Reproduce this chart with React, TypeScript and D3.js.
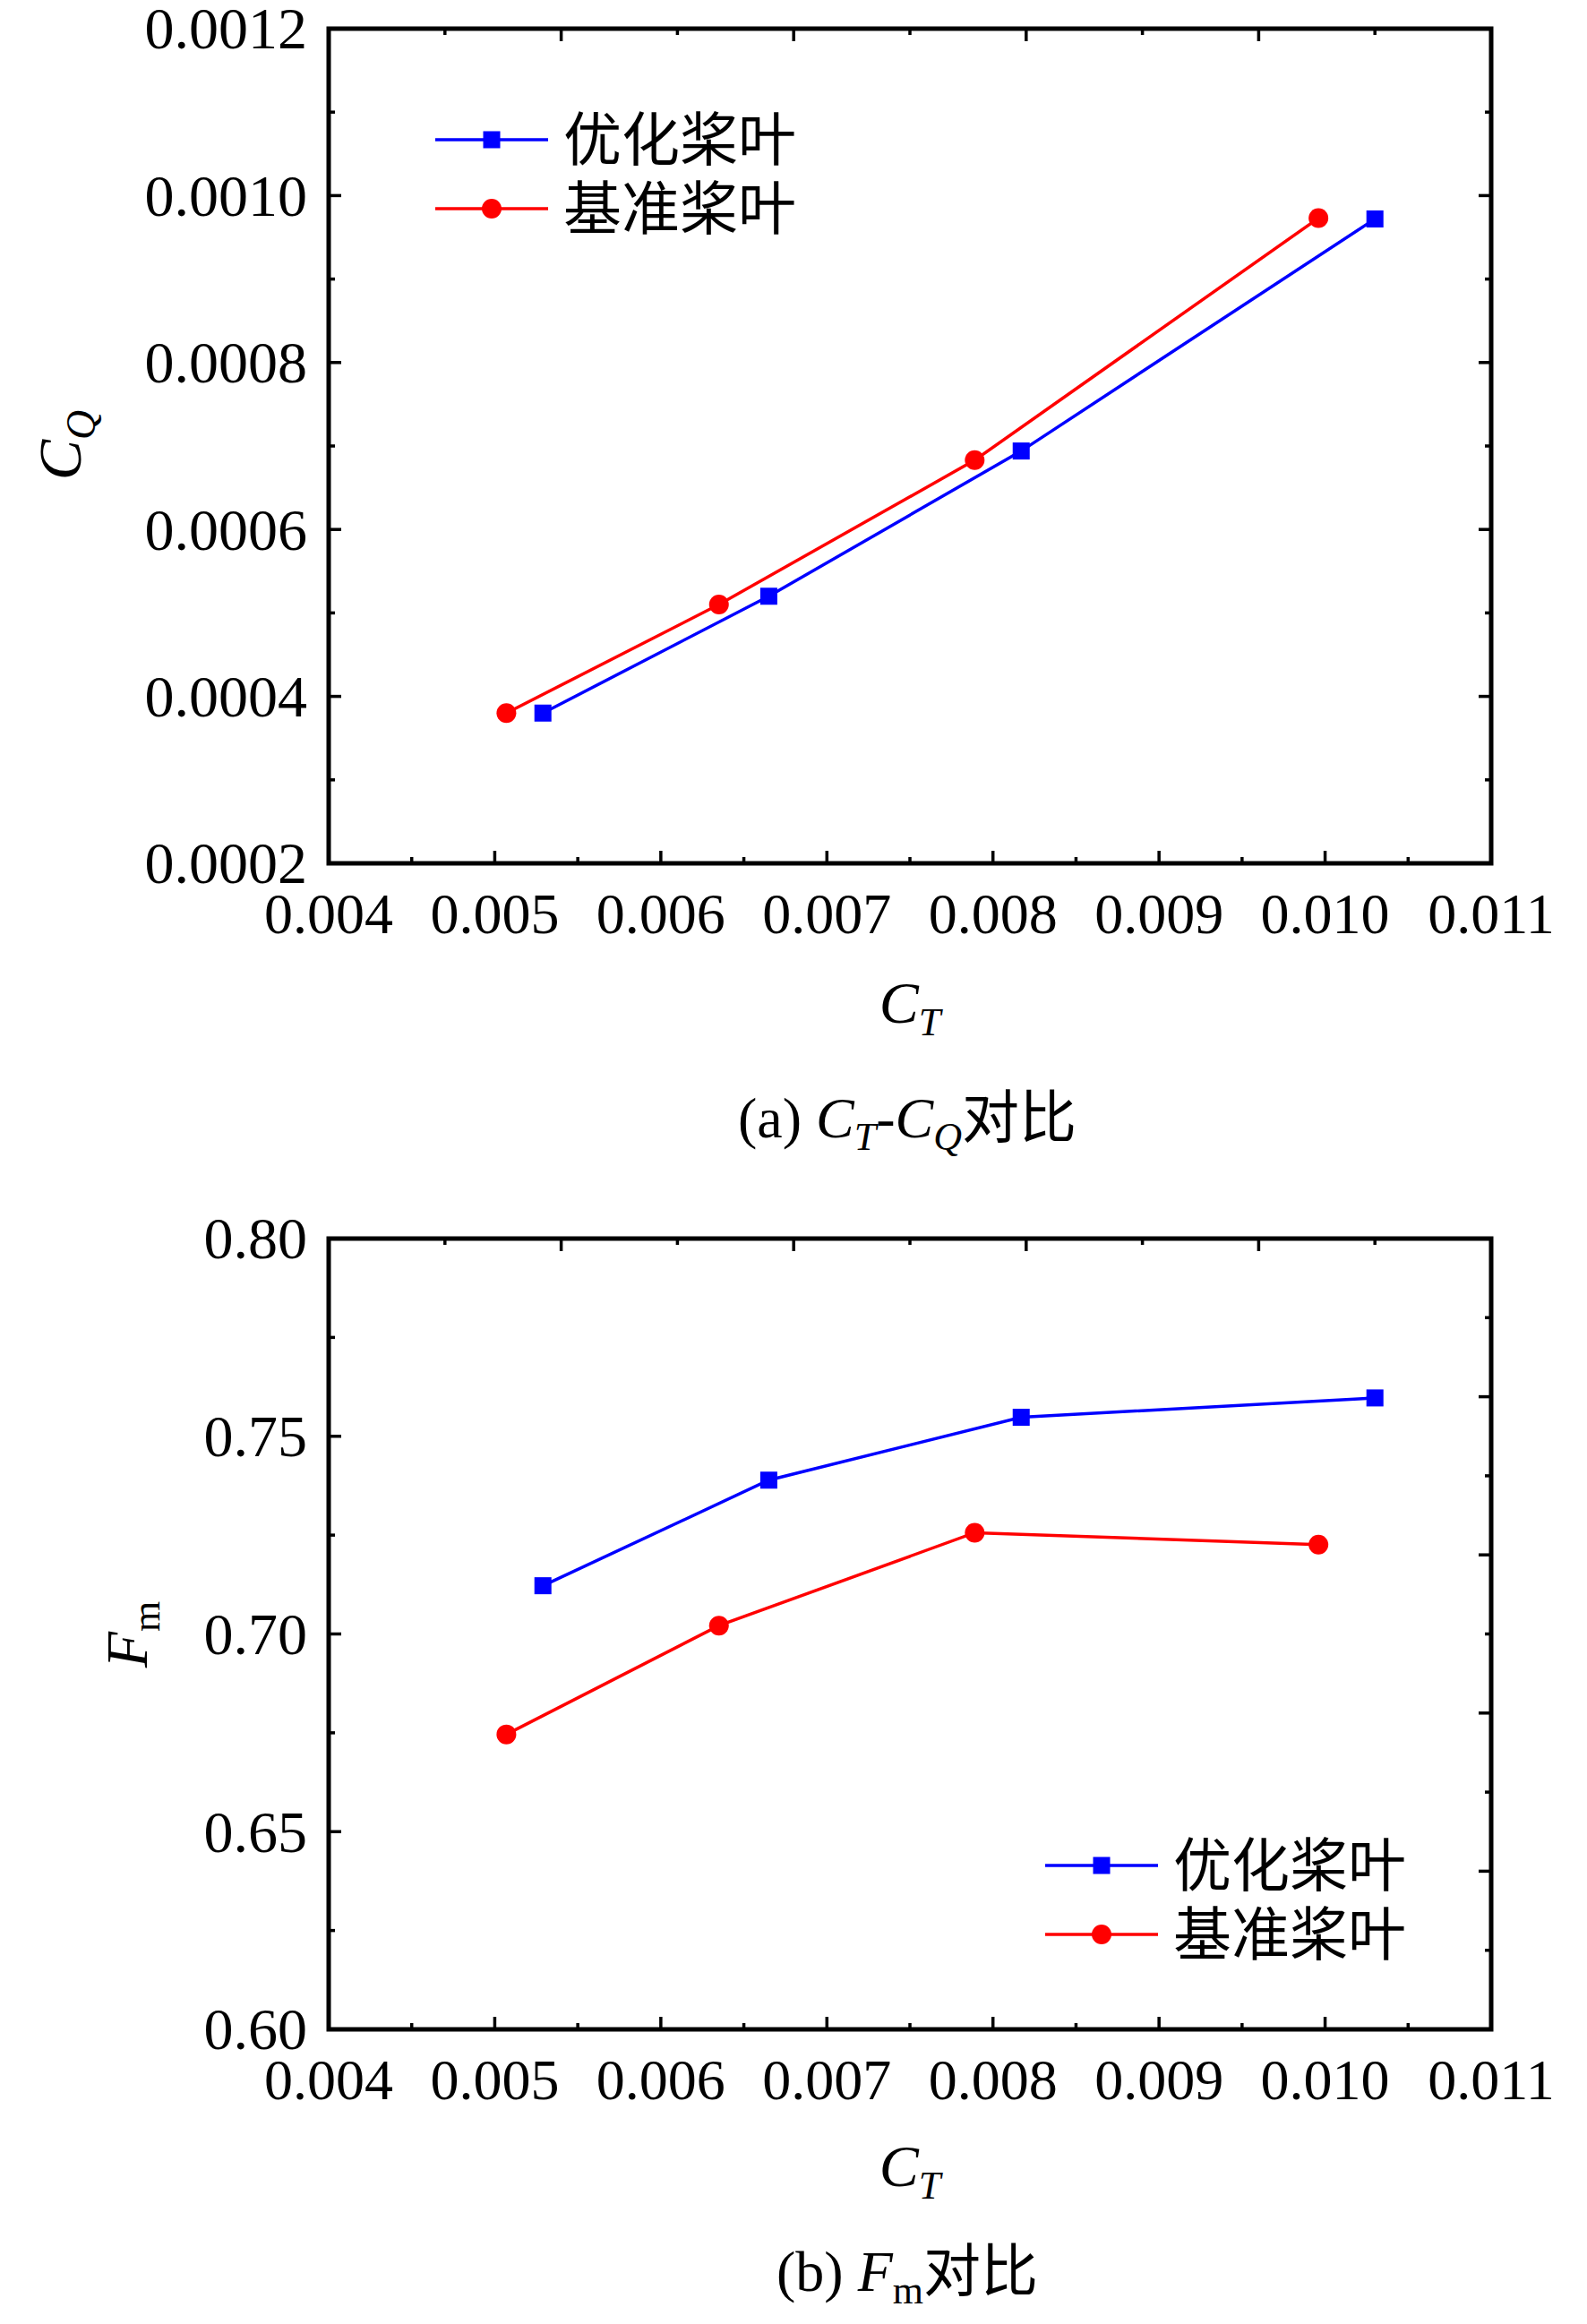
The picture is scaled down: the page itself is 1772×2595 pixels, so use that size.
import React from 'react';
import * as d3 from 'd3';

const W = 1772;
const H = 2595;
const FONT = '"Liberation Serif", "Times New Roman", "Noto Sans CJK SC", serif';
const CJK = '"Noto Sans CJK SC", "Liberation Serif", sans-serif';

// 数据：推力系数 / 扭矩系数 / 品质因数
const optCT = [0.00529, 0.00665, 0.00817, 0.0103];
const optCQ = [0.00038, 0.00052, 0.000694, 0.000972];
const optFm = [0.7122, 0.7389, 0.7548, 0.7597];

const baseCT = [0.00507, 0.00635, 0.00789, 0.00996];
const baseCQ = [0.00038, 0.00051, 0.000683, 0.000973];
const baseFm = [0.6746, 0.7021, 0.7256, 0.7226];

const legendNames = ['优化桨叶', '基准桨叶'];
const seriesColors = ['#0000ff', '#ff0000'];

const xDomain = [0.004, 0.011];
const xTickValues = [0.004, 0.005, 0.006, 0.007, 0.008, 0.009, 0.01, 0.011];
const cqDomain = [0.0002, 0.0012];
const cqTickValues = [0.0002, 0.0004, 0.0006, 0.0008, 0.001, 0.0012];
const fmDomain = [0.6, 0.8];
const fmTickValues = [0.6, 0.65, 0.7, 0.75, 0.8];

const X0 = 367;
const X1 = 1665;
const MAJOR = 14;
const MINOR = 7;

type PanelProps = {
  top: number;
  bottom: number;
  yDomain: number[];
  yTicks: number[];
  yFormat: (v: number) => string;
  series: { x: number[]; y: number[] }[];
  legendX: number;
  legendY: number;
};

const halfSteps = (ticks: number[]) =>
  ticks.slice(0, -1).map((t, i) => (t + ticks[i + 1]) / 2);

// Origin 的对侧轴：5 个主刻度区间，每段一个次刻度
const fiveSplit = (domain: number[]) => {
  const step = (domain[1] - domain[0]) / 5;
  const major = d3.range(6).map((i) => domain[0] + i * step);
  return { major, minor: halfSteps(major) };
};

const Marker = ({ kind, x, y, color, size }: any) =>
  kind === 0 ? (
    <rect x={x - size / 2} y={y - size / 2} width={size} height={size} fill={color} />
  ) : (
    <circle cx={x} cy={y} r={size / 2 + 1.5} fill={color} />
  );

const Panel = ({ top, bottom, yDomain, yTicks, yFormat, series, legendX, legendY }: PanelProps) => {
  const x = d3.scaleLinear().domain(xDomain).range([X0, X1]);
  const y = d3.scaleLinear().domain(yDomain).range([bottom, top]);
  const line = d3
    .line<[number, number]>()
    .x((d) => x(d[0]))
    .y((d) => y(d[1]));

  const xMinor = halfSteps(xTickValues);
  const yMinor = halfSteps(yTicks);
  const topAxis = fiveSplit(xDomain);
  const rightAxis = fiveSplit(yDomain);

  return (
    <g>
      {/* 刻度 */}
      <g stroke="#000" strokeWidth={3.5}>
        {xTickValues.map((t) => (
          <line key={`bx${t}`} x1={x(t)} x2={x(t)} y1={bottom} y2={bottom - MAJOR} />
        ))}
        {xMinor.map((t) => (
          <line key={`bxm${t}`} x1={x(t)} x2={x(t)} y1={bottom} y2={bottom - MINOR} />
        ))}
        {topAxis.major.map((t) => (
          <line key={`tx${t}`} x1={x(t)} x2={x(t)} y1={top} y2={top + MAJOR} />
        ))}
        {topAxis.minor.map((t) => (
          <line key={`txm${t}`} x1={x(t)} x2={x(t)} y1={top} y2={top + MINOR} />
        ))}
        {yTicks.map((t) => (
          <line key={`ly${t}`} x1={X0} x2={X0 + MAJOR} y1={y(t)} y2={y(t)} />
        ))}
        {yMinor.map((t) => (
          <line key={`lym${t}`} x1={X0} x2={X0 + MINOR} y1={y(t)} y2={y(t)} />
        ))}
        {rightAxis.major.map((t) => (
          <line key={`ry${t}`} x1={X1} x2={X1 - MAJOR} y1={y(t)} y2={y(t)} />
        ))}
        {rightAxis.minor.map((t) => (
          <line key={`rym${t}`} x1={X1} x2={X1 - MINOR} y1={y(t)} y2={y(t)} />
        ))}
      </g>
      <rect
        x={X0}
        y={top}
        width={X1 - X0}
        height={bottom - top}
        fill="none"
        stroke="#000"
        strokeWidth={5}
      />

      {/* 刻度标签 */}
      <g fontFamily={FONT} fill="#000">
        {xTickValues.map((t) => (
          <text key={`xl${t}`} x={x(t)} y={bottom + 78} textAnchor="middle" fontSize={64}>
            {d3.format('.3f')(t)}
          </text>
        ))}
        {yTicks.map((t) => (
          <text key={`yl${t}`} x={X0 - 24} y={y(t)} dy="0.34em" textAnchor="end" fontSize={66}>
            {yFormat(t)}
          </text>
        ))}
      </g>

      {/* 数据 */}
      {series.map((s, i) => {
        const pts = s.x.map((v, j) => [v, s.y[j]] as [number, number]);
        return (
          <g key={`s${i}`}>
            <path d={line(pts) || ''} fill="none" stroke={seriesColors[i]} strokeWidth={3.5} />
            {pts.map((p, j) => (
              <Marker key={j} kind={i} x={x(p[0])} y={y(p[1])} color={seriesColors[i]} size={19} />
            ))}
          </g>
        );
      })}

      {/* 图例 */}
      {legendNames.map((name, i) => {
        const ly = legendY + i * 77;
        return (
          <g key={name}>
            <line x1={legendX} x2={legendX + 126} y1={ly} y2={ly} stroke={seriesColors[i]} strokeWidth={3.5} />
            <Marker kind={i} x={legendX + 63} y={ly} color={seriesColors[i]} size={19} />
            <text
              x={legendX + 143}
              y={ly}
              dy="0.36em"
              fontFamily={CJK}
              fontSize={65}
              fill="#000"
            >
              {name}
            </text>
          </g>
        );
      })}
    </g>
  );
};

const App = () => {
  const cx = (X0 + X1) / 2;
  return (
    <svg
      width={W}
      height={H}
      viewBox={`0 0 ${W} ${H}`}
      style={{ position: 'absolute', left: 0, top: 0, background: '#fff' }}
    >
      <rect width={W} height={H} fill="#fff" />
      <Panel
        top={32}
        bottom={964}
        yDomain={cqDomain}
        yTicks={cqTickValues}
        yFormat={d3.format('.4f')}
        series={[
          { x: optCT, y: optCQ },
          { x: baseCT, y: baseCQ },
        ]}
        legendX={486}
        legendY={156}
      />
      <Panel
        top={1383}
        bottom={2266}
        yDomain={fmDomain}
        yTicks={fmTickValues}
        yFormat={d3.format('.2f')}
        series={[
          { x: optCT, y: optFm },
          { x: baseCT, y: baseFm },
        ]}
        legendX={1167}
        legendY={2083}
      />

      <g fontFamily={FONT} fill="#000">
        {/* (a) 轴标题 */}
        <text transform={`translate(90, 497) rotate(-90)`} textAnchor="middle" fontSize={68}>
          <tspan fontStyle="italic">C</tspan>
          <tspan fontStyle="italic" fontSize={46} dy={16}>Q</tspan>
        </text>
        <text x={cx} y={1142} textAnchor="middle" fontSize={66}>
          <tspan fontStyle="italic">C</tspan>
          <tspan fontStyle="italic" fontSize={44} dy={14}>T</tspan>
        </text>
        <text x={1013} y={1270} textAnchor="middle" fontSize={64}>
          <tspan>(a) </tspan>
          <tspan fontStyle="italic">C</tspan>
          <tspan fontStyle="italic" fontSize={44} dy={14}>T</tspan>
          <tspan dy={-14}>-</tspan>
          <tspan fontStyle="italic">C</tspan>
          <tspan fontStyle="italic" fontSize={44} dy={14}>Q</tspan>
          <tspan dy={-14} fontFamily={CJK}>对比</tspan>
        </text>

        {/* (b) 轴标题 */}
        <text transform={`translate(164, 1825) rotate(-90)`} textAnchor="middle" fontSize={66}>
          <tspan fontStyle="italic">F</tspan>
          <tspan fontSize={44} dy={14}>m</tspan>
        </text>
        <text x={cx} y={2441} textAnchor="middle" fontSize={66}>
          <tspan fontStyle="italic">C</tspan>
          <tspan fontStyle="italic" fontSize={44} dy={14}>T</tspan>
        </text>
        <text x={1013} y={2558} textAnchor="middle" fontSize={64}>
          <tspan>(b) </tspan>
          <tspan fontStyle="italic">F</tspan>
          <tspan fontSize={44} dy={14}>m</tspan>
          <tspan dy={-14} fontFamily={CJK}>对比</tspan>
        </text>
      </g>
    </svg>
  );
};

export default App;
